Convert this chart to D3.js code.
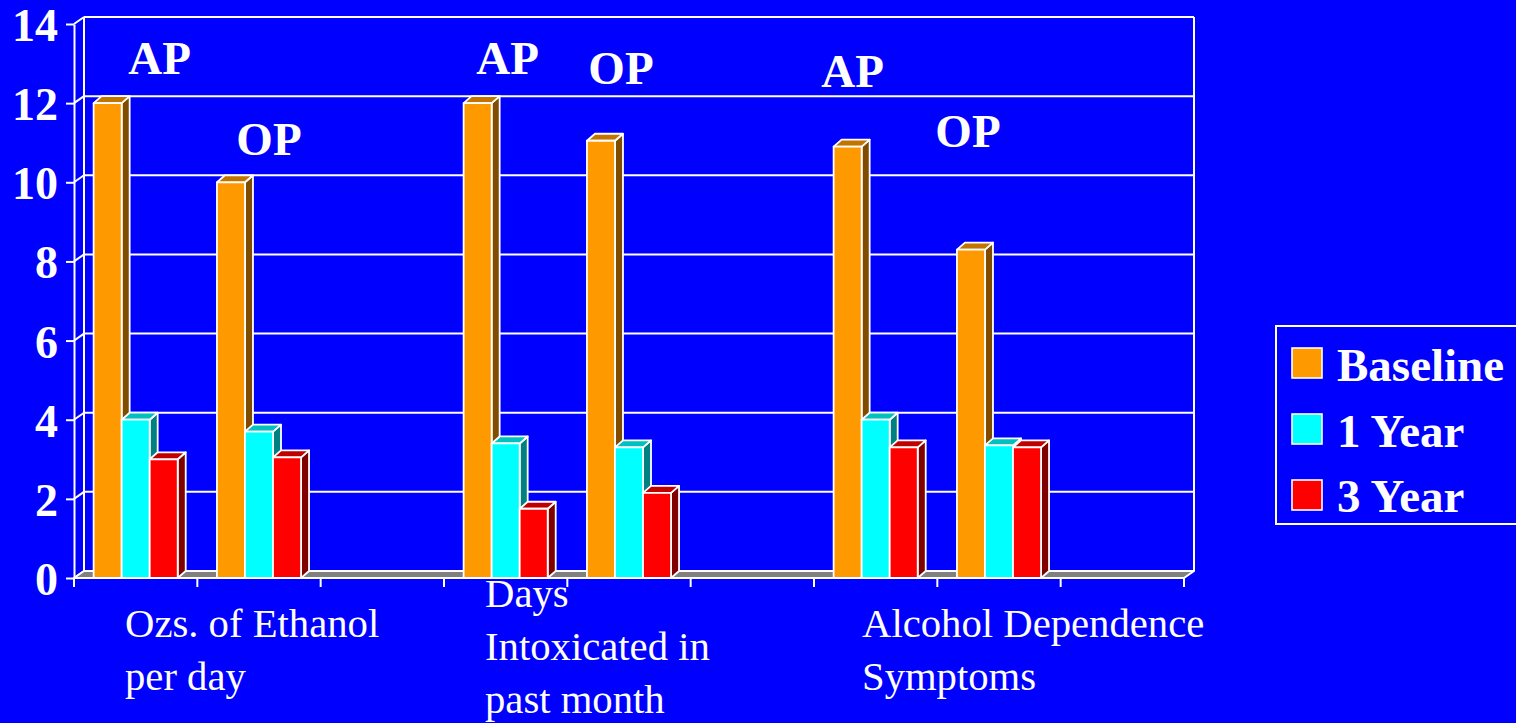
<!DOCTYPE html>
<html>
<head>
<meta charset="utf-8">
<script src="https://cdn.jsdelivr.net/npm/d3@7/dist/d3.min.js"></script>
<style>
  html, body { margin: 0; padding: 0; background: #0000FF; overflow: hidden; }
  svg { display: block; }
  text { font-family: "Liberation Serif", "Times New Roman", serif; fill: #FFFFFF; }
</style>
</head>
<body>
<svg id="chart" width="1516" height="723"></svg>
<script>
// ---------------- DATA ----------------
const measures = [
  ["Ozs. of Ethanol", "per day"],
  ["Days", "Intoxicated in", "past month"],
  ["Alcohol Dependence", "Symptoms"]
];
const programs = ["AP", "OP"];
const seriesNames = ["Baseline", "1 Year", "3 Year"];
// order: Ozs AP, Ozs OP, Days AP, Days OP, Symptoms AP, Symptoms OP
const baselineValues = [12, 10, 12, 11.05, 10.9, 8.3];
const year1Values    = [4, 3.7, 3.4, 3.3, 4.0, 3.35];
const year3Values    = [3, 3.05, 1.75, 2.15, 3.3, 3.3];
const yTickValues = [0, 2, 4, 6, 8, 10, 12, 14];

// ---------------- LAYOUT ----------------
const svg = d3.select("#chart");
svg.append("rect").attr("width", 1516).attr("height", 723).attr("fill", "#0000FF");

const X0 = 74, X1 = 1184, Y0 = 578, YTOP = 24;
const DX = 10, DY = -7;      // wall depth
const BDX = 8, BDY = -7;     // bar depth

// slots: per measure AP, OP and an empty slot
const slots = [];
measures.forEach((m, mi) => {
  programs.forEach((p, pi) => slots.push({key: mi + "-" + p, mi, pi, idx: mi * 2 + pi}));
  slots.push({key: mi + "-empty", mi, pi: -1, idx: -1});
});

const x = d3.scaleBand().domain(slots.map(s => s.key)).range([X0, X1]).padding(0);
const xs = d3.scaleBand().domain(seriesNames).range([0, x.bandwidth()]).paddingInner(0).paddingOuter(0.7);
const y = d3.scaleLinear().domain([0, 14]).range([Y0, YTOP]);

const colors = {
  "Baseline": {front: "#FF9900", top: "#C27400", side: "#804C00"},
  "1 Year":   {front: "#00FFFF", top: "#00C0C0", side: "#008080"},
  "3 Year":   {front: "#FF0000", top: "#C00000", side: "#800000"}
};
const valuesBySeries = {"Baseline": baselineValues, "1 Year": year1Values, "3 Year": year3Values};

const W = "#FFFFFF";

// Back wall gridlines
const g = svg.append("g");
yTickValues.forEach(v => {
  if (v === 0) return;
  g.append("line")
    .attr("x1", X0 + DX).attr("x2", X1 + DX)
    .attr("y1", y(v) + DY).attr("y2", y(v) + DY)
    .attr("stroke", W).attr("stroke-width", 2);
});
// back wall verticals
[X0 + DX, X1 + DX].forEach(xx => {
  g.append("line").attr("x1", xx).attr("x2", xx)
    .attr("y1", y(14) + DY).attr("y2", y(0) + DY)
    .attr("stroke", W).attr("stroke-width", 2);
});
// left wall diagonals
yTickValues.forEach(v => {
  g.append("line")
    .attr("x1", X0).attr("y1", y(v))
    .attr("x2", X0 + DX).attr("y2", y(v) + DY)
    .attr("stroke", W).attr("stroke-width", 2);
});
// Floor
g.append("polygon")
  .attr("points", [[X0, Y0], [X1, Y0], [X1 + DX, Y0 + DY], [X0 + DX, Y0 + DY]].map(p => p.join(",")).join(" "))
  .attr("fill", "#808080").attr("stroke", W).attr("stroke-width", 2).attr("stroke-linejoin", "round");

// Y axis (front)
const yAxis = d3.axisLeft(y).tickValues(yTickValues).tickSize(8).tickSizeOuter(0).tickPadding(8).tickFormat(d3.format("d"));
const ya = svg.append("g").attr("transform", `translate(${X0},0)`).call(yAxis);
ya.select(".domain").attr("stroke", W).attr("stroke-width", 2);
ya.selectAll(".tick line").attr("stroke", W).attr("stroke-width", 2);
ya.selectAll(".tick text")
  .attr("fill", W).attr("font-size", 46).attr("font-weight", "bold")
  .attr("font-family", "Liberation Serif, Times New Roman, serif")
  .attr("x", -16).attr("dy", "0.36em");

// Bars
const bars = svg.append("g");
slots.forEach(s => {
  if (s.idx < 0) return;
  seriesNames.forEach(sn => {
    const v = valuesBySeries[sn][s.idx];
    const c = colors[sn];
    const bx = x(s.key) + xs(sn);
    const bw = xs.bandwidth();
    const top = y(v), base = y(0);
    const bg = bars.append("g").attr("stroke", W).attr("stroke-width", 1.8).attr("stroke-linejoin", "round");
    // side
    bg.append("polygon")
      .attr("points", [[bx + bw, base], [bx + bw, top], [bx + bw + BDX, top + BDY], [bx + bw + BDX, base + BDY]].map(p => p.join(",")).join(" "))
      .attr("fill", c.side);
    // top
    bg.append("polygon")
      .attr("points", [[bx, top], [bx + bw, top], [bx + bw + BDX, top + BDY], [bx + BDX, top + BDY]].map(p => p.join(",")).join(" "))
      .attr("fill", c.top);
    // front
    bg.append("rect").attr("x", bx).attr("y", top).attr("width", bw).attr("height", base - top)
      .attr("fill", c.front);
  });
});

// X axis (front)
const xa = svg.append("g");
xa.append("line").attr("x1", X0).attr("x2", X1).attr("y1", Y0).attr("y2", Y0)
  .attr("stroke", W).attr("stroke-width", 2);
const boundaries = slots.map(s => x(s.key)).concat([X1]);
boundaries.forEach(bx => {
  xa.append("line").attr("x1", bx).attr("x2", bx).attr("y1", Y0).attr("y2", Y0 + 9)
    .attr("stroke", W).attr("stroke-width", 2);
});

// AP / OP labels (manually placed text boxes in the original)
const progLabelLayout = [
  {dx: 24, by: 74}, {dx: 10, by: 155},
  {dx: 2, by: 74}, {dx: -8, by: 84},
  {dx: -23, by: 87}, {dx: -31, by: 147}
];
slots.forEach(s => {
  if (s.idx < 0) return;
  const L = progLabelLayout[s.idx];
  svg.append("text")
    .attr("x", x(s.key) + x.bandwidth() / 2 + L.dx)
    .attr("y", L.by)
    .attr("text-anchor", "middle")
    .attr("font-size", 47).attr("font-weight", "bold")
    .text(programs[s.pi]);
});

// Measure labels
const measureLayout = [{dx: 51, by: 637}, {dx: 41, by: 607}, {dx: 48, by: 637}];
measures.forEach((lines, mi) => {
  const L = measureLayout[mi];
  const sx = x(mi + "-AP");
  const t = svg.append("text").attr("font-size", 40.7).attr("x", sx + L.dx).attr("y", L.by);
  lines.forEach((ln, li) => {
    t.append("tspan").attr("x", sx + L.dx).attr("y", L.by + li * 53).text(ln);
  });
});

// Legend
const lg = svg.append("g");
lg.append("rect").attr("x", 1276).attr("y", 326).attr("width", 250).attr("height", 198)
  .attr("fill", "none").attr("stroke", W).attr("stroke-width", 2);
seriesNames.forEach((sn, i) => {
  lg.append("rect").attr("x", 1292).attr("y", 348 + i * 66).attr("width", 30).attr("height", 30)
    .attr("fill", colors[sn].front).attr("stroke", W).attr("stroke-width", 1.6);
  lg.append("text").attr("x", 1337).attr("y", 381 + i * 65.5)
    .attr("font-size", 47).attr("font-weight", "bold").text(sn);
});
</script>
</body>
</html>
